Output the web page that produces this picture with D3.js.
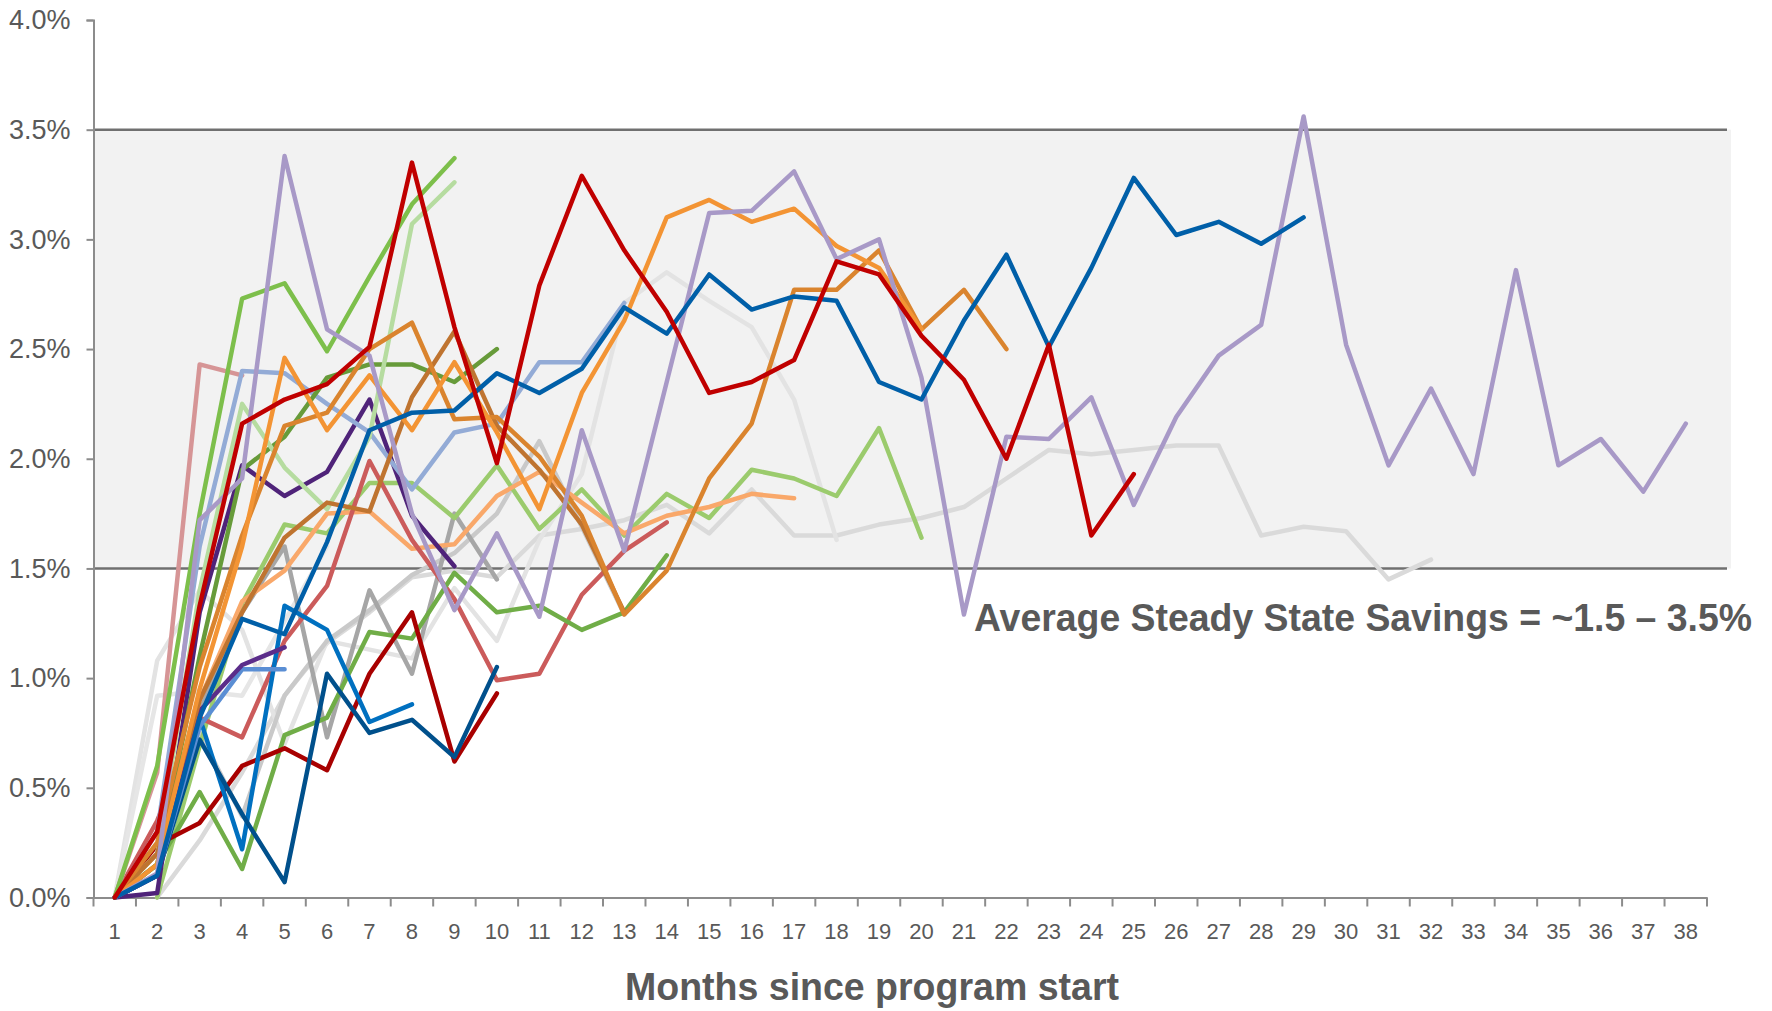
<!DOCTYPE html>
<html>
<head>
<meta charset="utf-8">
<script src="https://cdn.jsdelivr.net/npm/d3@7"></script>
<style>
  body { margin: 0; background: #fff; }
  text { font-family: "Liberation Sans", Arial, sans-serif; }
</style>
</head>
<body>
<svg class="chart"></svg>
<script>
var months = d3.range(1, 39);
var yTicks = [0, 0.005, 0.01, 0.015, 0.02, 0.025, 0.03, 0.035, 0.04];
var bandLow = 0.015, bandHigh = 0.035;
var note = "Average Steady State Savings = ~1.5 \u2013 3.5%";
var xTitle = "Months since program start";

// values in %, one entry per month starting at month 1 (null = no data)
var grayLong = [null, 0, 0.26, 0.57, 0.92, 1.16, 1.30, 1.46, 1.49, 1.46, 1.65, 1.68, 1.72, 1.79, 1.66, 1.86, 1.65, 1.65, 1.70, 1.73, 1.78, 1.91, 2.04, 2.02, 2.04, 2.06, 2.06, 1.65, 1.69, 1.67, 1.45, 1.54];
var grayPeak = [0, 1.08, 1.40, 1.22, 0.70, 1.17, 1.13, 1.09, 1.41, 1.17, 1.63, 1.93, 2.71, 2.85, 2.72, 2.60, 2.27, 1.63];
var grayShort = [0, 0.92, 0.94, 0.92, 1.26, 1.60];
var grayMid = [0, 0.1, 0.75, 0.37, 0.92, 1.17, 1.31, 1.47, 1.57, 1.75, 2.08, 1.69, 1.29];
var grayDark = [0, 0.1, 0.85, 1.30, 1.60, 0.73, 1.40, 1.02, 1.75, 1.45];
var greenMid = [null, 0, 0.69, 1.34, 1.70, 1.66, 1.89, 1.89, 1.73, 1.97, 1.68, 1.86, 1.65, 1.84, 1.73, 1.95, 1.91, 1.83, 2.14, 1.64];
var peach = [0, 0.15, 0.90, 1.35, 1.49, 1.75, 1.76, 1.59, 1.61, 1.83, 1.94, 1.80, 1.66, 1.74, 1.78, 1.84, 1.82];
var salmon = [0, 0.35, 0.82, 0.73, 1.17, 1.42, 1.99, 1.63, 1.36, 0.99, 1.02, 1.38, 1.58, 1.71];
var green = [0, 0.15, 0.48, 0.13, 0.74, 0.82, 1.21, 1.18, 1.48, 1.30, 1.33, 1.22, 1.30, 1.56];
var darkRed = [0, 0.24, 0.34, 0.60, 0.68, 0.58, 1.02, 1.30, 0.62, 0.93];
var midBlue = [0, 0.1, 0.82, 0.22, 1.33, 1.22, 0.80, 0.88];
var navy = [0, 0.1, 0.72, 0.38, 0.07, 1.02, 0.75, 0.81, 0.64, 1.05];
var paleBlue = [0, 0.1, 0.78, 1.04, 1.04];
var violet = [0, 0.1, 0.85, 1.06, 1.14];
var darkPurple = [0, 0.02, 1.30, 1.97, 1.83, 1.94, 2.27, 1.74, 1.51];
var pink = [0, 0.57, 2.43, 2.38];
var lightBlue = [0, 0.3, 1.60, 2.40, 2.39, 2.25, 2.12, 1.86, 2.12, 2.16, 2.44, 2.44, 2.71];
var olive = [0, 0.15, 1.10, 1.95, 2.10, 2.37, 2.43, 2.43, 2.35, 2.50];
var lightGreen = [0, 0.2, 1.40, 2.25, 1.96, 1.77, 2.10, 3.07, 3.26];
var brightGreen = [0, 0.6, 1.75, 2.73, 2.80, 2.49, 2.83, 3.16, 3.37];
var brown = [0, 0.2, 0.90, 1.30, 1.64, 1.80, 1.76, 2.28, 2.58, 2.15, 1.95, 1.70, 1.30];
var darkOrange = [0, 0.25, 1.05, 1.65, 2.15, 2.21, 2.50, 2.62, 2.18, 2.19, 2.01, 1.74, 1.29, 1.49, 1.91, 2.16, 2.77, 2.77, 2.95, 2.59, 2.77, 2.50];
var orange = [0, 0.15, 0.95, 1.60, 2.46, 2.13, 2.38, 2.13, 2.44, 2.12, 1.77, 2.30, 2.63, 3.10, 3.18, 3.08, 3.14, 2.97, 2.87, 2.59];
var lavender = [0, 0.11, 1.72, 1.91, 3.38, 2.59, 2.47, 1.75, 1.31, 1.66, 1.28, 2.13, 1.58, 2.35, 3.12, 3.13, 3.31, 2.91, 3.00, 2.37, 1.29, 2.10, 2.09, 2.28, 1.79, 2.19, 2.47, 2.61, 3.56, 2.52, 1.97, 2.32, 1.93, 2.86, 1.97, 2.09, 1.85, 2.16];
var blue = [0, 0.1, 0.82, 1.27, 1.20, 1.62, 2.13, 2.21, 2.22, 2.39, 2.30, 2.41, 2.69, 2.57, 2.84, 2.68, 2.74, 2.72, 2.35, 2.27, 2.63, 2.93, 2.51, 2.87, 3.28, 3.02, 3.08, 2.98, 3.10];
var red = [0, 0.30, 1.33, 2.16, 2.27, 2.34, 2.51, 3.35, 2.60, 1.98, 2.79, 3.29, 2.95, 2.67, 2.30, 2.35, 2.45, 2.90, 2.84, 2.56, 2.36, 2.00, 2.52, 1.65, 1.93];

var series = [
  { values: grayLong, color: "#dadada" },
  { values: grayPeak, color: "#e3e3e3" },
  { values: grayShort, color: "#e6e6e6" },
  { values: grayMid, color: "#c9c9c9" },
  { values: grayDark, color: "#a6a6a6" },
  { values: greenMid, color: "#9bcb6d" },
  { values: peach, color: "#f9a86a" },
  { values: salmon, color: "#cb5b5b" },
  { values: green, color: "#70ad47" },
  { values: darkRed, color: "#a80000" },
  { values: midBlue, color: "#0070c0" },
  { values: navy, color: "#00508c" },
  { values: paleBlue, color: "#5a8ed4" },
  { values: violet, color: "#5b2d8a" },
  { values: darkPurple, color: "#4f2379" },
  { values: pink, color: "#d69596" },
  { values: lightBlue, color: "#93abd6" },
  { values: olive, color: "#679b3a" },
  { values: lightGreen, color: "#b6dca0" },
  { values: brightGreen, color: "#7dbf4b" },
  { values: brown, color: "#bf7430" },
  { values: darkOrange, color: "#da842e" },
  { values: orange, color: "#f39434" },
  { values: lavender, color: "#a899c7" },
  { values: blue, color: "#005fa8" },
  { values: red, color: "#c00000" }
];

var width = 1772, height = 1011;

var svg = d3.select(".chart")
    .attr("width", width)
    .attr("height", height);

var x = d3.scaleBand()
    .domain(months)
    .range([93.5, 1707]);

var y = d3.scaleLinear()
    .domain([0, 0.04])
    .range([897.5, 20]);

// steady state band
svg.append("rect")
    .attr("x", x.range()[0])
    .attr("y", y(bandHigh))
    .attr("width", 1731 - x.range()[0])
    .attr("height", y(bandLow) - y(bandHigh))
    .attr("fill", "#f2f2f2");

svg.selectAll(".band-line")
  .data([bandLow, bandHigh])
  .enter()
    .append("line")
    .attr("class", "band-line")
    .attr("x1", x.range()[0])
    .attr("x2", 1727)
    .attr("y1", d => y(d))
    .attr("y2", d => y(d))
    .attr("stroke", "#707070")
    .attr("stroke-width", 2.5);

// y axis
var yAxis = svg.append("g")
    .attr("transform", "translate(" + x.range()[0] + ",0)")
    .call(d3.axisLeft(y).tickValues(yTicks).tickFormat(d3.format(".1%")).tickSize(7).tickPadding(16));

// x axis
var xAxis = svg.append("g")
    .attr("transform", "translate(0," + y(0) + ")")
    .call(d3.axisBottom(x).tickSize(0).tickPadding(26));

xAxis.selectAll(".boundary")
  .data(d3.range(months.length + 1))
  .enter()
    .append("line")
    .attr("class", "boundary")
    .attr("x1", d => x.range()[0] + d * x.step())
    .attr("x2", d => x.range()[0] + d * x.step())
    .attr("y1", 0)
    .attr("y2", 9)
    .attr("stroke", "#8c8c8c")
    .attr("stroke-width", 2);

[yAxis, xAxis].forEach(function(ax) {
  ax.select(".domain").attr("stroke", "#8c8c8c").attr("stroke-width", 2);
  ax.selectAll(".tick line").attr("stroke", "#8c8c8c").attr("stroke-width", 2);
  ax.selectAll(".tick text")
    .attr("fill", "#595959")
    .style("font-family", "'Liberation Sans', Arial, sans-serif");
});
yAxis.selectAll(".tick text").style("font-size", "27px");
xAxis.selectAll(".tick text").style("font-size", "22px");

// lines
var line = d3.line()
    .defined(d => d.v !== null)
    .x(d => x(d.m) + x.bandwidth() / 2)
    .y(d => y(d.v / 100));

svg.append("g")
  .selectAll(".series")
  .data(series)
  .enter()
    .append("path")
    .attr("class", "series")
    .attr("fill", "none")
    .attr("stroke", d => d.color)
    .attr("stroke-width", 4.5)
    .attr("stroke-linejoin", "round")
    .attr("stroke-linecap", "round")
    .attr("d", d => line(d.values.map((v, i) => ({ m: months[i], v: v }))));

// annotation
svg.append("text")
    .attr("x", 974)
    .attr("y", 631)
    .attr("textLength", 778)
    .attr("lengthAdjust", "spacingAndGlyphs")
    .style("font-size", "38px")
    .style("font-weight", "bold")
    .attr("fill", "#595959")
    .text(note);

svg.append("text")
    .attr("x", 625)
    .attr("y", 1000)
    .attr("textLength", 494)
    .attr("lengthAdjust", "spacingAndGlyphs")
    .style("font-size", "39px")
    .style("font-weight", "bold")
    .attr("fill", "#595959")
    .text(xTitle);
</script>
</body>
</html>
